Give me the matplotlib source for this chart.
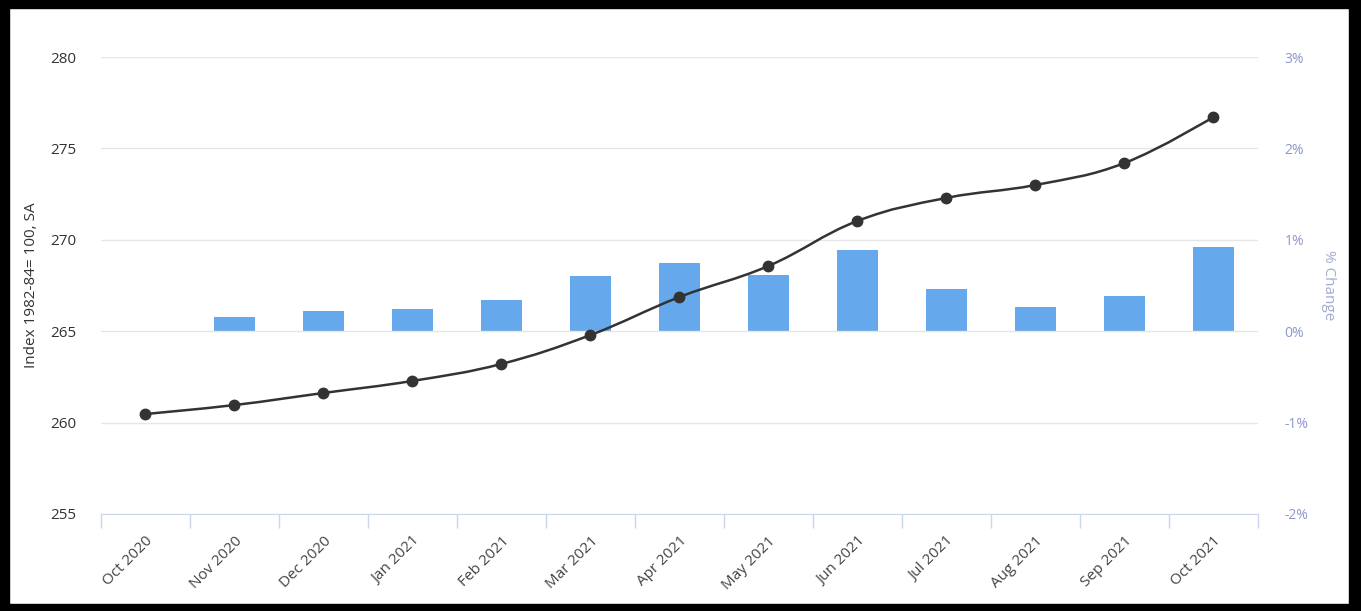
import matplotlib.pyplot as plt
from matplotlib.path import Path
from matplotlib.patches import PathPatch, Rectangle

months = ['Oct 2020', 'Nov 2020', 'Dec 2020', 'Jan 2021', 'Feb 2021', 'Mar 2021',
          'Apr 2021', 'May 2021', 'Jun 2021', 'Jul 2021', 'Aug 2021', 'Sep 2021', 'Oct 2021']
index_values = [260.47, 260.96, 261.62, 262.28, 263.21, 264.79, 266.87,
                268.57, 271.03, 272.29, 273.0, 274.2, 276.72]
pct_change = [0.0, 0.16, 0.22, 0.24, 0.34, 0.60, 0.75, 0.61, 0.89, 0.46, 0.27, 0.39, 0.92]

left_ticks = [255, 260, 265, 270, 275, 280]
right_ticks = [-2, -1, 0, 1, 2, 3]


def spline_path(xs, ys, smoothing=1.5):
    # highcharts-like spline built from bezier segments
    n = len(xs)
    verts = [(xs[0], ys[0])]
    codes = [Path.MOVETO]
    right_prev = (xs[0], ys[0])
    for i in range(1, n):
        x, y = xs[i], ys[i]
        if i < n - 1:
            lx, ly = xs[i - 1], ys[i - 1]
            nx, ny = xs[i + 1], ys[i + 1]
            d = smoothing + 1
            lcx = (smoothing * x + lx) / d
            lcy = (smoothing * y + ly) / d
            rcx = (smoothing * x + nx) / d
            rcy = (smoothing * y + ny) / d
            if rcx != lcx:
                corr = (rcy - lcy) * (rcx - x) / (rcx - lcx) + y - rcy
                lcy += corr
                rcy += corr
            left_c = (lcx, lcy)
            right_c = (rcx, rcy)
        else:
            left_c = (x, y)
            right_c = (x, y)
        verts += [right_prev, left_c, (x, y)]
        codes += [Path.CURVE4] * 3
        right_prev = right_c
    return Path(verts, codes)


fig = plt.figure(figsize=(13.61, 6.11), dpi=100)
ax = fig.add_axes([0.0742, 0.1588, 0.8501, 0.7479])
ax2 = ax.twinx()

x = list(range(len(months)))

# bars on right axis
ax2.bar(x, pct_change, width=0.46, color='#66a8ec', zorder=2)
ax2.set_ylim(-2, 3)
ax2.set_yticks(right_ticks)
ax2.set_yticklabels([f'{t}%' for t in right_ticks])
ax2.tick_params(axis='y', length=0, pad=19, labelsize=10, labelcolor='#8f96cc')
ax2.set_ylabel('% Change', rotation=-90, color='#a3aad0', fontsize=11, labelpad=20)

# line on top
ax.set_zorder(ax2.get_zorder() + 1)
ax.patch.set_visible(False)
ax.add_patch(PathPatch(spline_path(x, index_values), fill=False,
                       edgecolor='#333333', lw=1.8, zorder=3))
ax.plot(x, index_values, 'o', color='#333333', ms=7.5, zorder=4)
ax.set_ylim(255, 280)
ax.set_yticks(left_ticks)
ax.tick_params(axis='y', length=0, pad=18, labelsize=11, labelcolor='#333333')
ax.set_ylabel('Index 1982-84= 100, SA', fontsize=11, color='#333333', labelpad=8)

ax.set_xlim(-0.5, len(months) - 0.5)
ax.set_xticks([i - 0.5 for i in range(len(months) + 1)])
ax.set_xticklabels([])
ax.set_xticks(x, minor=True)
ax.set_xticklabels(months, minor=True, rotation=45, ha='right', rotation_mode='anchor',
                   fontsize=11, color='#444444')
ax.tick_params(axis='x', which='major', length=10, color='#ccd6eb', width=1)
ax.tick_params(axis='x', which='minor', length=0, pad=14)

for a in (ax, ax2):
    for s in a.spines.values():
        s.set_visible(False)
ax.spines['bottom'].set_visible(True)
ax.spines['bottom'].set_color('#ccd6eb')
ax.grid(axis='y', color='#e6e6e6', lw=1)
ax.set_axisbelow(True)

for t in ax.get_xticklabels(minor=True) + ax.get_yticklabels() + ax2.get_yticklabels():
    t.set_family('Open Sans')
ax.yaxis.label.set_family('Open Sans')
ax2.yaxis.label.set_family('Open Sans')

# black frame round the screenshot
W, H = 1361, 611
fig.patches.append(Rectangle((0, 0), 1, 7 / H, transform=fig.transFigure, color='black'))
fig.patches.append(Rectangle((0, 1 - 8 / H), 1, 8 / H, transform=fig.transFigure, color='black'))
fig.patches.append(Rectangle((0, 0), 9 / W, 1, transform=fig.transFigure, color='black'))
fig.patches.append(Rectangle((1 - 12 / W, 0), 12 / W, 1, transform=fig.transFigure, color='black'))

fig.savefig('out.png', dpi=100)
